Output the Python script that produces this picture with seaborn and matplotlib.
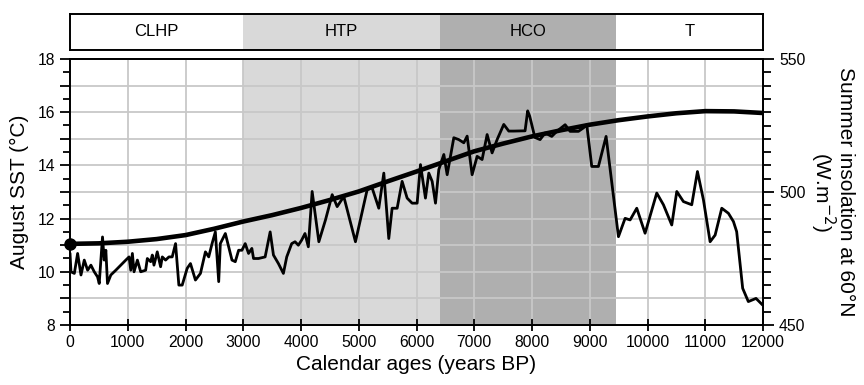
import matplotlib
matplotlib.use("Agg")
import matplotlib.pyplot as plt
import seaborn as sns
import pandas as pd
from matplotlib.ticker import MultipleLocator

# ---------------- data ----------------
sst_years = [0, 17, 75, 132, 190, 247, 305, 362, 420, 477, 506, 563, 592, 621, 649,
             707, 793, 879, 966, 1023, 1052, 1080, 1109, 1167, 1224, 1310, 1339, 1397,
             1425, 1454, 1511, 1569, 1598, 1655, 1713, 1770, 1828, 1885, 1943, 2029,
             2086, 2172, 2259, 2345, 2402, 2460, 2517, 2575, 2603, 2661, 2690, 2747,
             2805, 2862, 2920, 2977, 3034, 3092, 3149, 3178, 3264, 3379, 3466, 3523,
             3609, 3695, 3753, 3839, 3897, 3954, 4011, 4069, 4127, 4193, 4309, 4424,
             4540, 4626, 4741, 4943, 5145, 5232, 5347, 5434, 5520, 5578, 5665, 5751,
             5838, 5924, 6011, 6069, 6155, 6213, 6271, 6329, 6386, 6473, 6531, 6646,
             6732, 6819, 6877, 6963, 7050, 7136, 7223, 7309, 7396, 7511, 7598, 7684,
             7880, 7925, 7960, 8050, 8140, 8227, 8342, 8429, 8574, 8660, 8804, 8891,
             8948, 9035, 9150, 9283, 9497, 9612, 9699, 9814, 9958, 10160, 10276, 10420,
             10507, 10622, 10766, 10865, 10969, 11084, 11171, 11286, 11401, 11488,
             11544, 11648, 11746, 11879, 11994]
sst_values = [10.7, 10.0, 9.94, 10.69, 9.88, 10.44, 10.06, 10.25, 10.0, 9.81, 9.56, 11.31,
              10.44, 10.81, 9.56, 9.88, 10.06, 10.25, 10.44, 10.56, 10.06, 10.69, 10.0,
              10.44, 10.0, 10.06, 10.5, 10.38, 10.63, 10.25, 10.75, 10.19, 10.56, 10.44,
              10.56, 10.56, 11.06, 9.5, 9.5, 10.13, 10.31, 9.69, 9.94, 10.75, 10.56, 11.06,
              11.5, 9.63, 11.06, 11.31, 11.44, 10.94, 10.44, 10.38, 10.81, 10.81, 11.06,
              10.69, 10.88, 10.5, 10.5, 10.56, 11.5, 10.63, 10.31, 9.94, 10.56, 11.06,
              11.13, 11.0, 11.19, 11.44, 10.94, 13.02, 11.13, 11.95, 12.9, 12.45, 12.83,
              11.13, 13.08, 13.15, 12.39, 13.71, 11.25, 12.39, 12.39, 13.4, 12.77, 12.58,
              12.58, 14.03, 12.77, 13.71, 13.4, 12.58, 13.84, 14.41, 13.65, 15.04, 14.97,
              14.85, 15.1, 13.65, 14.34, 14.22, 15.16, 14.47, 14.97, 15.54, 15.29, 15.29,
              15.3, 16.05, 15.85, 15.05, 14.97, 15.22, 15.09, 15.28, 15.53, 15.28, 15.28,
              15.41, 15.53, 13.96, 13.96, 15.09, 11.32, 12.01, 11.95, 12.39, 11.45, 12.96,
              12.52, 11.76, 13.02, 12.64, 12.52, 13.77, 12.7, 11.13, 11.38, 12.39, 12.2,
              11.89, 11.51, 9.38, 8.88, 9.0, 8.75]

ins_years = [0, 500, 1000, 1500, 2000, 2500, 3000, 3500, 4000, 4500, 5000, 5500, 6000,
             6500, 7000, 7500, 8000, 8500, 9000, 9500, 10000, 10500, 11000, 11500, 12000]
ins_values = [480.5, 480.7, 481.3, 482.3, 483.8, 486.2, 488.9, 491.3, 494.0, 497.0,
              500.2, 504.0, 507.7, 511.5, 515.3, 518.2, 520.9, 523.2, 525.3, 527.0,
              528.4, 529.6, 530.4, 530.3, 529.7]

periods = ["CLHP", "HTP", "HCO", "T"]
period_starts = [0, 3000, 6400, 9450]
period_ends = [3000, 6400, 9450, 12000]
period_colors = ["white", "#d9d9d9", "#afafaf", "white"]

x_ticks = [0, 1000, 2000, 3000, 4000, 5000, 6000, 7000, 8000, 9000, 10000, 11000, 12000]
left_grid = [8, 9, 10, 11, 12, 13, 14, 15, 16, 17, 18]
right_ticks = [450, 500, 550]

# ---------------- style ----------------
sns.set_style("white")
plt.rcParams["font.family"] = ["Liberation Sans", "DejaVu Sans"]
plt.rcParams["text.color"] = "black"
plt.rcParams["axes.labelcolor"] = "black"
plt.rcParams["xtick.color"] = "black"
plt.rcParams["ytick.color"] = "black"

W, H = 864, 385
fig = plt.figure(figsize=(W / 100, H / 100), dpi=100)

ax = fig.add_axes([70 / W, 1 - 325 / H, 693 / W, 266 / H])
axb = fig.add_axes([70 / W, 1 - 50 / H, 693 / W, 36 / H])

for s, e, c in zip(period_starts, period_ends, period_colors):
    if c != "white":
        ax.axvspan(s, e, color=c, lw=0, zorder=0)
        axb.axvspan(s, e, color=c, lw=0, zorder=0)

ax.set_xlim(0, 12000)
ax.set_ylim(8, 18)
ax.set_xticks(x_ticks)
ax.set_yticks(left_grid)
ax.set_yticklabels([str(v) if v % 2 == 0 else "" for v in left_grid])
ax.yaxis.set_minor_locator(MultipleLocator(0.5))
ax.grid(True, which="major", color="#c8c8c8", lw=1.3)
ax.set_axisbelow(False)
for gl in ax.get_xgridlines() + ax.get_ygridlines():
    gl.set_zorder(1)

df_sst = pd.DataFrame({"year": sst_years, "sst": sst_values})
sns.lineplot(data=df_sst, x="year", y="sst", ax=ax, color="black", lw=2.0,
             zorder=3, sort=False)

ax2 = ax.twinx()
ax2.set_ylim(450, 550)
ax2.set_yticks(right_ticks)
ax2.yaxis.set_minor_locator(MultipleLocator(5))
df_ins = pd.DataFrame({"year": ins_years, "ins": ins_values})
sns.lineplot(data=df_ins, x="year", y="ins", ax=ax2, color="black", lw=3.3, zorder=4)
ax2.plot([ins_years[0]], [ins_values[0]], "o", color="black", ms=8, clip_on=False,
         zorder=5)

for a in (ax, ax2, axb):
    for sp in a.spines.values():
        sp.set_color("black")
        sp.set_linewidth(1.4)
        sp.set_visible(True)

ax.tick_params(axis="x", which="major", direction="inout", length=8, width=1.3,
               labelsize=11.3, pad=3, bottom=True)
ax.tick_params(axis="y", which="both", direction="out", width=1.3, labelsize=11.3,
               left=True)
ax.tick_params(axis="y", which="major", length=7)
ax.tick_params(axis="y", which="minor", length=5)
ax2.tick_params(axis="y", which="both", direction="out", width=1.3, labelsize=11.3,
                right=True)
ax2.tick_params(axis="y", which="major", length=8)
ax2.tick_params(axis="y", which="minor", length=6)

ax.set_xlabel("Calendar ages (years BP)", fontsize=15, labelpad=4)
ax.set_ylabel("August SST (°C)", fontsize=15, labelpad=6)
ax2.set_ylabel("Summer insolation at 60°N\n(W.m$^{-2}$)", fontsize=15, rotation=270,
               labelpad=36, linespacing=0.95)

axb.set_xlim(0, 12000)
axb.set_ylim(0, 1)
axb.set_xticks([])
axb.set_yticks([])
for name, s, e in zip(periods, period_starts, period_ends):
    axb.text((s + e) / 2, 0.5, name, ha="center", va="center", fontsize=12)

fig.savefig("out.png", dpi=100)
